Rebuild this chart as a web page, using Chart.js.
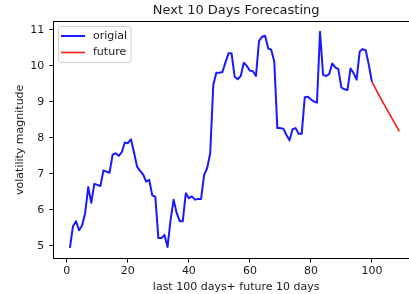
<!DOCTYPE html>
<html>
<head>
<meta charset="utf-8">
<script src="https://cdn.jsdelivr.net/npm/chart.js@4"></script>
<style>
  html, body { margin: 0; padding: 0; background: #fff; overflow: hidden; }
</style>
</head>
<body>
<canvas id="myChart" width="420" height="294"></canvas>
<script>
// last 100 days (x = 1..100)
var origial = [
    4.94, 5.54, 5.68, 5.43, 5.56, 5.91, 6.63, 6.19, 6.72, 6.69,
    6.66, 7.09, 7.06, 7.03, 7.53, 7.57, 7.50, 7.60, 7.87, 7.85,
    7.96, 7.60, 7.20, 7.08, 6.98, 6.78, 6.83, 6.40, 6.36, 5.21,
    5.21, 5.30, 4.96, 5.72, 6.28, 5.91, 5.68, 5.68, 6.46, 6.32,
    6.37, 6.28, 6.30, 6.30, 6.97, 7.16, 7.57, 9.47, 9.81, 9.81,
    9.83, 10.10, 10.35, 10.35, 9.70, 9.63, 9.72, 10.09, 10.00, 9.87,
    9.85, 9.72, 10.70, 10.81, 10.84, 10.49, 10.45, 10.12, 8.27, 8.27,
    8.25, 8.08, 7.93, 8.24, 8.27, 8.11, 8.11, 9.13, 9.14, 9.07,
    9.01, 8.98, 10.95, 9.75, 9.72, 9.77, 10.07, 9.96, 9.91, 9.40,
    9.35, 9.33, 9.93, 9.80, 9.62, 10.40, 10.47, 10.43, 10.03, 9.56
];
var origialStart = 1;

// next 10 days
var future = [9.56, 9.40, 9.24, 9.08, 8.93, 8.78, 8.63, 8.48, 8.33, 8.18];
var futureStart = 100;

var xTicks = [0, 20, 40, 60, 80, 100];
var yTicks = [5, 6, 7, 8, 9, 10, 11];

var titleText = 'Next 10 Days Forecasting';
var xLabel = 'last 100 days+ future 10 days';
var yLabel = 'volatility magnitude';

function toPoints(values, start) {
    return values.map(function (v, i) {
        return { x: start + i, y: v };
    });
}

var fontFamily = '"DejaVu Sans", sans-serif';
var textColor = '#1a1a1a';

// top spine, title and legend box drawn like matplotlib
var frameExtras = {
    id: 'frameExtras',
    afterDraw: function (chart) {
        var ctx = chart.ctx;
        var area = chart.chartArea;
        ctx.save();
        ctx.strokeStyle = '#000';
        ctx.lineWidth = 1;
        ctx.beginPath();
        ctx.moveTo(area.left, Math.round(area.top) + 0.5);
        ctx.lineTo(area.right, Math.round(area.top) + 0.5);
        ctx.stroke();

        ctx.fillStyle = textColor;
        ctx.font = '13px ' + fontFamily;
        ctx.textAlign = 'center';
        ctx.textBaseline = 'middle';
        ctx.fillText(titleText, (area.left + area.right) / 2, 11);

        // legend
        var lx = 58.5, ly = 26.5, lw = 72.5, lh = 36;
        ctx.fillStyle = 'rgba(255,255,255,0.8)';
        ctx.strokeStyle = '#d0d0d0';
        ctx.lineWidth = 1;
        ctx.beginPath();
        ctx.roundRect(lx, ly, lw, lh, 2.5);
        ctx.fill();
        ctx.stroke();

        var items = chart.data.datasets;
        ctx.font = '11px ' + fontFamily;
        ctx.textAlign = 'left';
        for (var i = 0; i < items.length; i++) {
            var yy = 36 + i * 16.5;
            ctx.strokeStyle = items[i].borderColor;
            ctx.lineWidth = items[i].borderWidth;
            ctx.beginPath();
            ctx.moveTo(61, yy);
            ctx.lineTo(85, yy);
            ctx.stroke();
            ctx.fillStyle = textColor;
            ctx.fillText(items[i].label, 93, yy);
        }
        ctx.restore();
    }
};

var ctx = document.getElementById('myChart').getContext('2d');
var config = {
    type: 'line',
    data: {
        datasets: [{
            label: 'origial',
            data: toPoints(origial, origialStart),
            borderColor: 'rgb(25, 25, 255)',
            backgroundColor: 'rgb(25, 25, 255)',
            borderWidth: 2,
            borderJoinStyle: 'round',
            pointRadius: 0,
            tension: 0,
            fill: false
        }, {
            label: 'future',
            data: toPoints(future, futureStart),
            borderColor: 'rgb(255, 25, 25)',
            backgroundColor: 'rgb(255, 25, 25)',
            borderWidth: 1.6,
            borderJoinStyle: 'round',
            pointRadius: 0,
            tension: 0,
            fill: false
        }]
    },
    options: {
        responsive: false,
        animation: false,
        layout: { padding: { top: 21, right: 1, left: 0, bottom: 0 } },
        plugins: {
            legend: { display: false },
            title: { display: false },
            tooltip: { enabled: false }
        },
        scales: {
            x: {
                type: 'linear',
                min: -4.45,
                max: 115.45,
                afterBuildTicks: function (scale) {
                    scale.ticks = xTicks.map(function (v) { return { value: v }; });
                },
                afterFit: function (scale) { scale.height = 35.4; },
                grid: { drawOnChartArea: false, drawTicks: true, tickLength: 4, color: '#000' },
                border: { display: true, color: '#000', width: 1 },
                ticks: { color: textColor, font: { family: fontFamily, size: 11 }, padding: 2, maxRotation: 0 },
                title: { display: true, text: xLabel, color: textColor, font: { family: fontFamily, size: 11 }, padding: { top: 0, bottom: 0 } }
            },
            y: {
                type: 'linear',
                min: 4.64,
                max: 11.25,
                afterBuildTicks: function (scale) {
                    scale.ticks = yTicks.map(function (v) { return { value: v }; });
                },
                afterFit: function (scale) { scale.width = 53.3; },
                grid: { drawOnChartArea: false, drawTicks: true, tickLength: 4, color: '#000' },
                border: { display: true, color: '#000', width: 1 },
                ticks: { color: textColor, font: { family: fontFamily, size: 11 }, padding: 5 },
                title: { display: true, text: yLabel, color: textColor, font: { family: fontFamily, size: 11 }, padding: { top: 14, bottom: 0 } }
            }
        }
    },
    plugins: [frameExtras]
};

var chart = new Chart(ctx, config);
</script>
</body>
</html>
